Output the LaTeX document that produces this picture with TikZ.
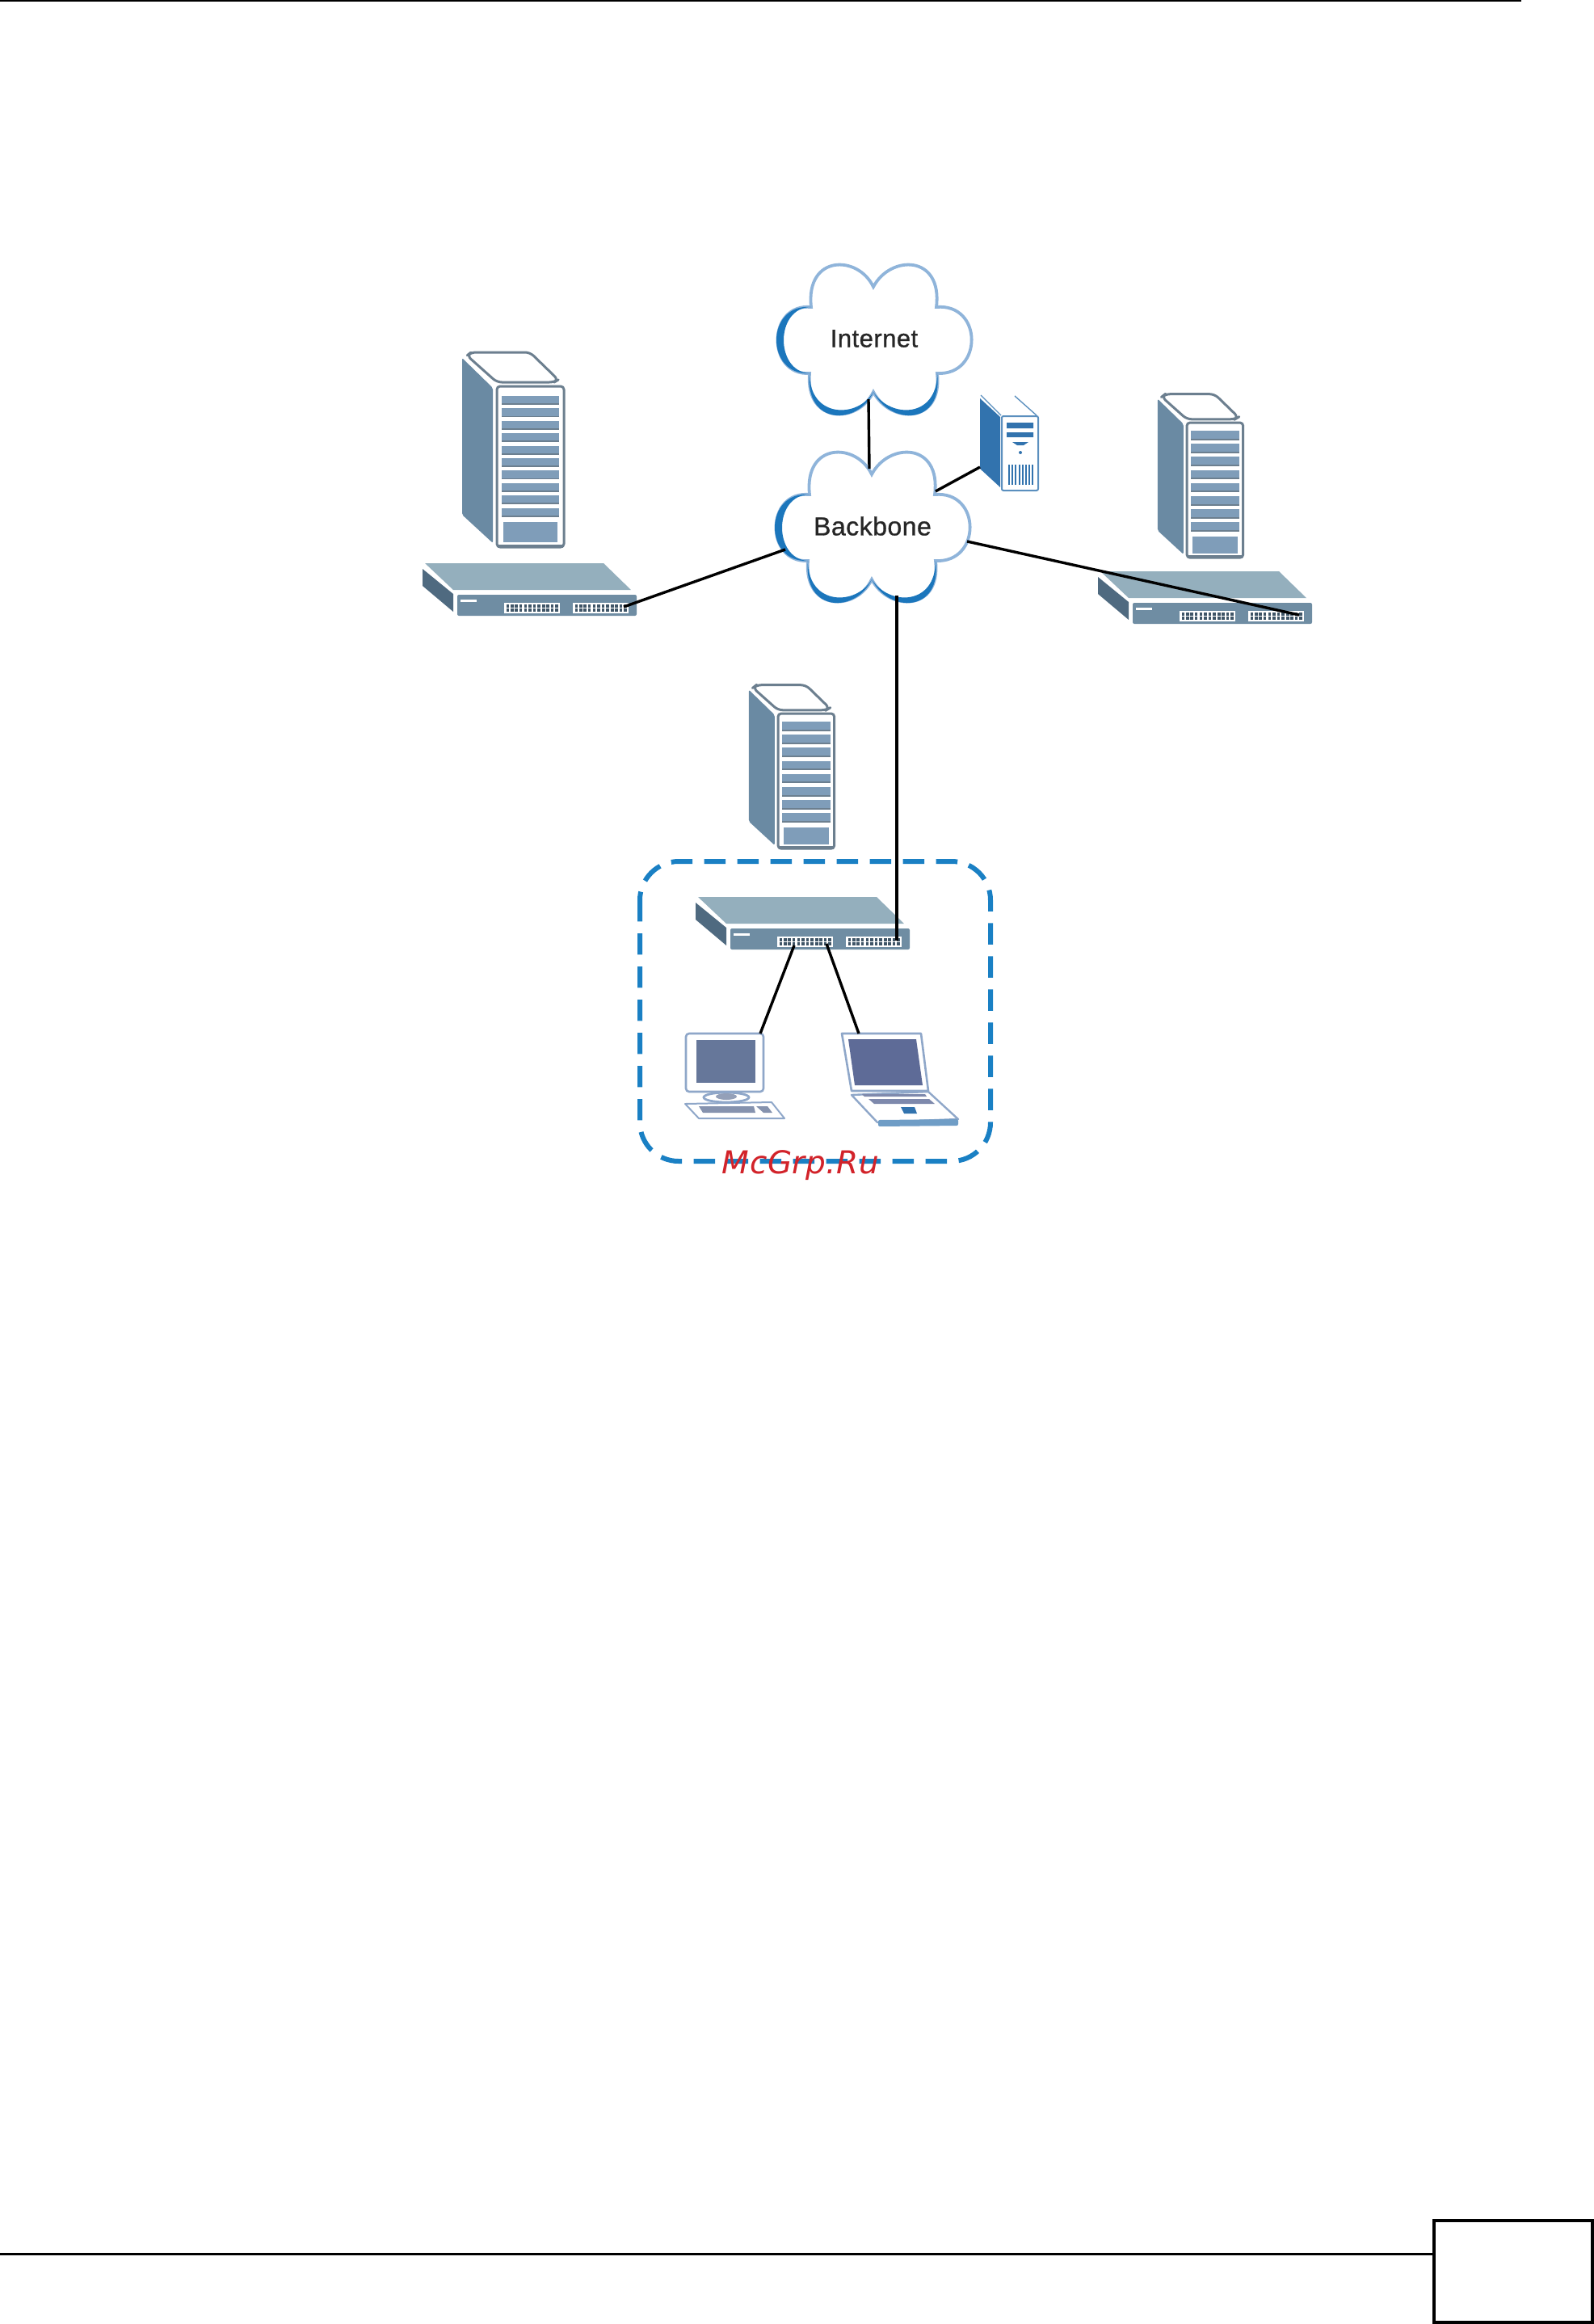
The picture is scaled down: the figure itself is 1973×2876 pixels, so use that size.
\documentclass[tikz,border=0pt]{standalone}
\usepackage{fontspec}
\setmainfont{Liberation Sans}
\newfontfamily\cloudfont[FakeBold=0.9,LetterSpace=1.5]{Liberation Sans}
\newfontfamily\markfont[LetterSpace=1.5]{DejaVu Sans}
\usetikzlibrary{positioning,calc}
\definecolor{cloudlight}{HTML}{8FB4DA}
\definecolor{clouddark}{HTML}{1B76BC}
\definecolor{towerside}{HTML}{6A8AA3}
\definecolor{towerline}{HTML}{6C7F8F}
\definecolor{towerslot}{HTML}{7F9DB9}
\definecolor{switchtop}{HTML}{94AFBD}
\definecolor{switchfront}{HTML}{6F8DA3}
\definecolor{switchside}{HTML}{4F6A80}
\definecolor{hostblue}{HTML}{3273AE}
\definecolor{screenblue}{HTML}{66779A}
\definecolor{lapblue}{HTML}{5E6B97}
\definecolor{frameblue}{HTML}{8FA7C9}
\definecolor{lanblue}{HTML}{1A80C4}
\definecolor{markred}{HTML}{D2232A}
\newcommand{\cloudpath}{(-78,-40) .. controls (-85,-105) and (-20,-105) .. (-1,-65)
  .. controls (20,-105) and (85,-105) .. (77,-40)
  .. controls (135,-45) and (135,45) .. (78,42)
  .. controls (85,105) and (20,105) .. (-1,65)
  .. controls (-20,105) and (-85,105) .. (-80,42)
  .. controls (-133,45) and (-133,-45) .. (-78,-40) -- cycle}
\tikzset{
  link/.style={draw=black,line width=1.7pt},
  rim/.style={draw=towerline,line width=1.5pt,fill=white,line join=round},
  cloudlabel/.style={inner sep=0,text=black!85},
  netcloud/.pic={
    \draw[cloudlight,line width=1.9pt,fill=white] \cloudpath;
    % darker lower and left edges
    \fill[clouddark] (-80,42) .. controls (-135,45) and (-135,-45) .. (-78,-40)
      .. controls (-123,-40) and (-123,40) .. (-80,42) -- cycle;
    \fill[clouddark] (78,42) .. controls (86,107) and (20,107) .. (-1,65)
      .. controls (20,98) and (78,98) .. (78,42) -- cycle;
    \fill[clouddark] (-1,65) .. controls (-20,107) and (-86,107) .. (-80,42)
      .. controls (-80,98) and (-20,98) .. (-1,65) -- cycle;
    \coordinate (-n) at (-4,-72);
    \coordinate (-s) at (-7,74);
    \coordinate (-s2) at (30,85);
    \coordinate (-w) at (-108,28);
    \coordinate (-e) at (117,18);
    \coordinate (-ne) at (78,-44);
  },
  tower/.pic={
    \fill[towerside,rounded corners=1pt] (-43,-35) -- (-5,2) -- (-5,194) -- (-43,159) -- cycle;
    \draw[rim,rounded corners=3pt] (-37,-38) -- (-32,-42) -- (41,-42) -- (76,-8) -- (71,-5) -- (0,-5) -- cycle;
    \draw[rim,rounded corners=2pt] (0,0) rectangle (83,199);
    \draw[towerline,line width=2pt] (1,198) -- (82,198);
    \pgfmathsetmacro{\slotstep}{154/#1}
    \foreach \i in {1,...,#1} {
      \pgfmathsetmacro{\slottop}{12+(\i-1)*\slotstep}
      \fill[towerslot] (6,\slottop) rectangle (77,\slottop+0.72*\slotstep);
      \fill[towerline] (6,\slottop+0.6*\slotstep) rectangle (77,\slottop+0.72*\slotstep);
    }
    \fill[towerslot] (8,168) rectangle (75,193);
  },
  hostbox/.pic={
    \fill[hostblue] (0,0) -- (25,23) -- (25,110) -- (0,87) -- cycle;
    \draw[hostblue!80,line width=0.7pt] (1,-4) -- (26,21) (43,-3) -- (70,21);
    \draw[hostblue!80,line width=1pt,fill=white,rounded corners=1pt] (27,22) rectangle (72,114);
    \fill[hostblue] (33,30) rectangle (66,37) (33,42) rectangle (66,48);
    \fill[hostblue] (40,54) -- (60,54) -- (54,58) -- (46,58) -- cycle;
    \fill[hostblue] (50,67) circle (2);
    \foreach \i in {0,...,7} \fill[hostblue] (35+\i*4.2,82) rectangle (37+\i*4.2,107);
    \coordinate (-w) at (0,85);
  },
  switchbox/.pic={
    \fill[switchtop] (3,0) -- (224,0) -- (258,33) -- (38,33) -- cycle;
    \fill[switchside] (0,7) -- (38,38) -- (38,60) -- (0,28) -- cycle;
    \fill[switchfront,rounded corners=1pt] (43,39) rectangle (265,65);
    \fill[white] (47,45) rectangle (67,47.5);
    \foreach \b in {101,186} {
      \fill[white] (\b,49) rectangle (\b+69,62);
      \foreach \c in {0,...,11} \foreach \r in {0,1}
        \fill[switchside!80!black] ({\b+2.5+\c*5.4+0.6*floor(\c/4)},{50.5+\r*5.5}) rectangle +(3.6,4);
    }
    \coordinate (-uplink) at (249,54);
    \coordinate (-portA) at (122,60);
    \coordinate (-portB) at (162,58);
  },
  desktop/.pic={
    \draw[frameblue,line width=1.3pt,fill=white,rounded corners=2pt] (0,0) rectangle (96,72);
    \fill[screenblue] (13,8) rectangle (86,61);
    \draw[frameblue,line width=1.4pt,fill=white] (50,79) ellipse (28 and 6);
    \fill[screenblue!70] (50,78) ellipse (13 and 4);
    \draw[frameblue,line width=1pt,fill=white,line join=round] (-1,87) -- (106,85) -- (122,105) -- (16,105) -- cycle;
    \fill[screenblue!80] (16,90) -- (84,90) -- (86,98) -- (21,98) -- cycle;
    \fill[screenblue!80] (87,90) -- (101,90) -- (107,98) -- (96,98) -- cycle;
    \coordinate (-top) at (92,0);
  },
  laptop/.pic={
    \draw[frameblue,line width=1.3pt,fill=white,line join=round] (0,0) -- (98,0) -- (107,71) -- (12,71) -- cycle;
    \fill[lapblue] (8,7) -- (92,7) -- (100,64) -- (16,64) -- cycle;
    \draw[frameblue,line width=1.2pt,fill=white,line join=round] (12,76) -- (107,72) -- (144,106) -- (44,110) -- cycle;
    \fill[lapblue!80] (25,75) -- (103,75) -- (105,78) -- (28,78) -- cycle;
    \fill[lapblue!80] (33,81) -- (108,81) -- (115,87) -- (40,87) -- cycle;
    \fill[hostblue] (73,91) -- (90,91) -- (93,99) -- (77,99) -- cycle;
    \fill[hostblue!70,rounded corners=1pt] (45,107) -- (144,106) -- (144,114) -- (45,115) -- cycle;
    \coordinate (-top) at (21,0);
  }
}
\begin{document}
\begin{tikzpicture}[x=0.5pt,y=-0.5pt]
    \useasboundingbox (0,0) rectangle (1973,2876);
    % Page rules
    \fill[black] (0,0) rectangle (1883,2);
    \fill[black] (0,2788) rectangle (1773,2790.5);
    \node[draw=black,line width=2pt,inner sep=0,minimum width=98pt,minimum height=63pt] (pagebox) at (1873,2811) {};
    % LAN group
    \draw[lanblue,line width=3pt,dash pattern=on 13.2pt off 7.3pt,rounded corners=24pt] (792,1066) rectangle (1226,1437);
    % Clouds
    \pic (internet) at (1082,420) {netcloud};
    \pic (backbone) at (1080,652) {netcloud};
    \node[cloudlabel,font=\cloudfont\fontsize{15.5}{18}\selectfont] (internetlabel) at (1082,419) {Internet};
    \node[cloudlabel,font=\cloudfont\fontsize{16}{19}\selectfont] (backbonelabel) at (1080,651) {Backbone};
    % Servers
    \pic (towerL) at (615,478) {tower=10};
    \pic[scale=0.84] (towerR) at (1469,523) {tower=8};
    \pic[scale=0.84] (towerC) at (963,883) {tower=8};
    \pic (host) at (1213,493) {hostbox};
    % Switches
    \pic (switchL) at (523,697) {switchbox};
    \begin{scope}
      \clip (1350,690) rectangle (1627,790);
      \pic (switchR) at (1359,707) {switchbox};
    \end{scope}
    \pic (switchC) at (861,1110) {switchbox};
    % Clients
    \pic (pc) at (849,1279) {desktop};
    \pic (notebook) at (1042,1279) {laptop};
    % Connections
    \draw[link] (internet-s) -- (backbone-n);
    \draw[link] (backbone-ne) -- (host-w);
    \draw[link] (backbone-w) -- (switchL-uplink);
    \draw[link] (backbone-e) -- (switchR-uplink);
    \draw[link] (backbone-s2) -- (switchC-uplink);
    \draw[link] (switchC-portA) -- (pc-top);
    \draw[link] (switchC-portB) -- (notebook-top);
    % Watermark
    \node[inner sep=0,anchor=base,text=markred,font=\markfont\itshape\fontsize{19.5}{22}\selectfont] (watermark) at (991,1452) {McGrp.Ru};
\end{tikzpicture}
\end{document}
